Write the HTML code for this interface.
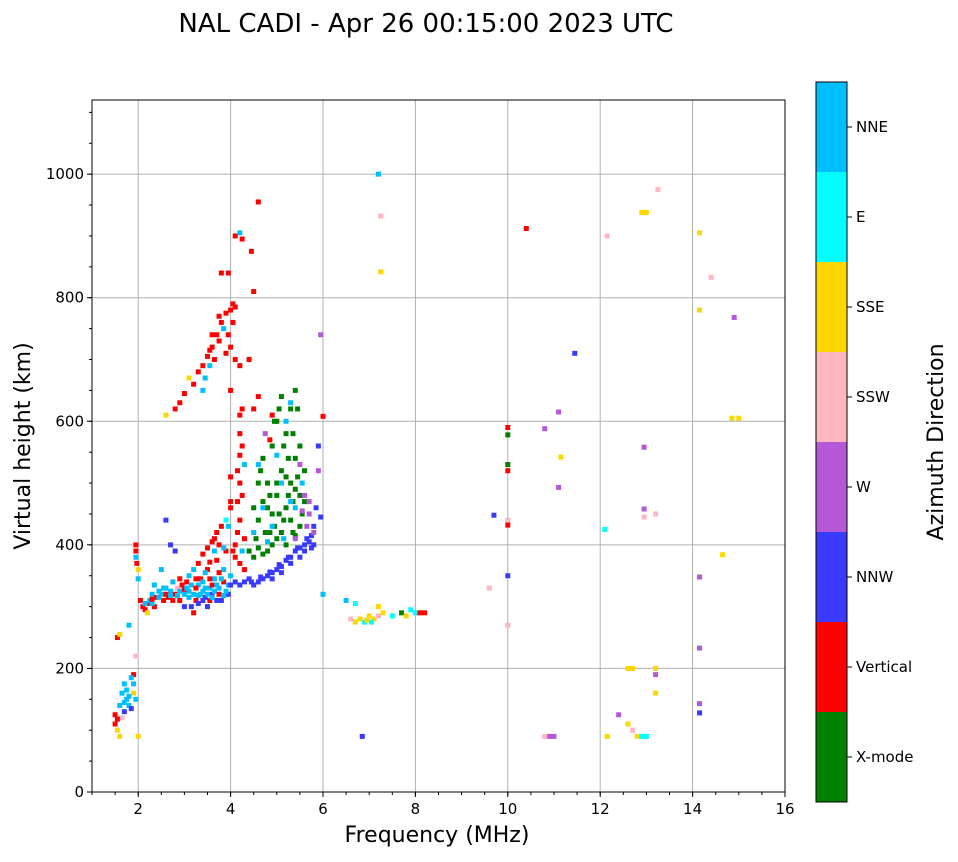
<!DOCTYPE html>
<html><head><meta charset="utf-8"><style>
body{margin:0;background:#fff;}
svg text{font-family:"DejaVu Sans","Liberation Sans",sans-serif;fill:#000;}
</style></head><body>
<svg id="chart" width="958" height="857" xmlns="http://www.w3.org/2000/svg">
<rect width="958" height="857" fill="#fff"/>
<text x="426" y="32" font-size="26" text-anchor="middle">NAL CADI - Apr 26 00:15:00 2023 UTC</text>
<g id="grid"></g>
<g id="marks"></g>
<rect x="92" y="100" width="693" height="692" fill="none" stroke="#000" stroke-width="1"/>
<g id="axes"></g>
<text x="437" y="842" font-size="22" text-anchor="middle">Frequency (MHz)</text>
<text transform="translate(30,446) rotate(-90)" font-size="22" text-anchor="middle">Virtual height (km)</text>
<g id="cbar"></g>
<text transform="translate(943,442) rotate(-90)" font-size="22" text-anchor="middle">Azimuth Direction</text>
</svg>
<script>
const modeNames=["X-mode","Vertical","NNW","W","SSW","SSE","E","NNE"];
const modeColors=["#008000","#ff0000","#3a3aff","#b558d8","#ffb6c1","#ffd700","#00ffff","#00bfff"];
const xTicks=[2,4,6,8,10,12,14,16];
const yTicks=[0,200,400,600,800,1000];
const points=[
[1.5,125,1],[1.5,110,1],[1.55,100,5],[1.6,90,5],[1.6,140,7],[1.65,160,7],[1.7,175,7],[1.75,150,7],[1.8,140,7],[1.85,135,2],[1.9,190,1],[1.85,185,7],[1.7,130,2],[1.65,120,4],[1.75,165,7],[1.55,250,1],[1.6,255,5],[1.8,270,7],[1.95,150,7],[1.95,220,4],[2.0,90,5],[1.9,160,5],[1.55,118,1],[1.7,145,7],[1.8,155,7],[1.9,175,7],
[1.95,400,1],[1.95,390,1],[1.95,380,7],[1.97,370,1],[2.0,360,5],[2.0,345,7],[2.05,310,1],[2.1,300,1],[2.15,295,1],[2.2,305,1],[2.2,290,5],[2.25,310,7],[2.3,320,7],[2.35,300,1],[2.4,315,1],[2.45,325,7],[2.5,320,7],[2.55,310,1],[2.6,330,7],[2.65,315,1],[2.7,325,7],[2.75,340,7],[2.8,320,1],[2.85,330,4],[2.9,310,1],[2.95,335,1],[3.0,320,7],[3.05,340,1],[3.1,350,7],[3.15,300,2],[3.2,320,7],[3.25,310,1],[3.3,335,7],[3.35,345,1],[3.4,325,7],[3.45,315,2],[3.5,360,1],[3.55,330,7],[3.6,320,2],[3.65,345,7],[3.7,375,1],[3.75,330,7],[3.8,310,2],[3.85,340,1],[3.9,390,1],[3.95,320,2],[4.0,350,7],[3.3,370,1],[3.4,385,1],[3.5,395,1],[3.6,405,1],[3.7,420,1],[3.8,430,1],[3.9,440,6],[2.6,440,2],[2.7,400,2],[2.8,390,2],[2.5,360,7],[2.35,335,7],[3.2,290,1],[3.0,300,2],[3.5,300,2],[3.7,310,2],[2.9,345,1],[3.2,360,7],[3.45,355,7],[3.65,390,7],[3.85,360,7],[2.3,305,7],[2.6,320,1],[2.9,325,7],[3.1,315,7],[3.35,320,7],[3.6,335,1],[3.8,345,7],[3.9,325,7],[3.55,310,1],[3.75,355,1],
[2.15,305,7],[2.3,312,1],[2.45,315,7],[2.55,330,7],[2.7,318,7],[2.85,318,7],[3.0,328,1],[3.1,325,7],[3.15,335,7],[3.25,330,1],[3.3,318,7],[3.4,340,7],[3.45,330,7],[3.5,320,7],[3.6,315,7],[3.65,325,7],[3.7,335,7],[3.75,320,1],[3.85,318,7],[3.95,335,7],[3.4,310,2],[3.55,345,1],[3.25,345,1],[3.05,330,7],[2.75,310,1],[3.3,305,2],[3.55,372,1],[3.75,400,1],[3.85,395,7],[3.65,410,1],
[4.0,335,2],[4.1,340,2],[4.2,335,2],[4.3,340,2],[4.4,345,2],[4.5,335,2],[4.6,340,2],[4.7,345,2],[4.8,350,2],[4.9,355,2],[5.0,360,2],[5.1,365,2],[5.2,375,2],[5.3,380,2],[5.4,390,2],[5.5,395,2],[5.6,400,2],[5.7,405,2],[5.75,415,2],[5.8,430,2],[5.85,460,2],[5.9,520,3],[5.9,560,2],[5.95,445,2],[4.0,460,1],[4.1,380,1],[4.2,370,1],[4.3,360,1],[4.1,400,1],[4.15,420,1],[4.2,440,1],[4.15,470,1],[4.2,500,1],[4.15,520,1],[4.2,545,1],[4.25,560,1],[4.2,580,1],[4.2,610,1],[4.25,620,1],[4.25,480,1],[4.3,530,7],[4.3,410,1],[4.0,470,1],[4.0,510,1],[3.95,430,7],[4.05,390,1],[4.25,390,7],
[4.45,340,2],[4.65,348,2],[4.85,356,2],[5.05,368,2],[5.25,380,2],[5.45,395,2],[5.65,410,2],[5.8,400,2],[5.5,380,2],[5.3,370,2],[5.1,355,2],[4.9,345,2],[5.6,390,2],[5.75,395,2],
[4.4,390,0],[4.5,380,0],[4.6,395,0],[4.7,385,0],[4.8,390,0],[4.9,400,0],[5.0,410,0],[5.1,420,0],[4.6,440,0],[4.7,470,0],[4.8,500,0],[4.9,450,0],[5.0,480,0],[5.1,520,0],[5.2,460,0],[5.3,500,0],[5.4,540,0],[5.5,560,0],[5.2,580,0],[5.3,620,0],[5.4,650,0],[4.7,540,0],[4.9,560,0],[5.0,600,0],[5.1,640,0],[5.6,470,0],[5.5,430,0],[5.3,440,0],[4.5,460,0],[4.6,500,0],[5.2,400,0],[5.4,415,0],[4.95,600,0],[5.45,510,0],[5.25,540,0],[5.05,450,0],[4.85,420,0],[5.35,470,0],[5.5,480,0],
[4.55,410,0],[4.75,420,0],[4.95,430,0],[5.15,440,0],[5.35,420,0],[5.55,450,0],[4.8,460,0],[5.0,500,0],[5.2,510,0],[5.4,490,0],[5.6,520,0],[5.15,560,0],[5.35,580,0],[5.05,620,0],[5.45,620,0],[4.65,520,0],[4.85,480,0],[5.25,480,0],
[4.5,420,7],[4.7,460,7],[5.2,600,7],[5.1,500,7],[4.9,430,7],[5.3,470,7],[4.6,530,7],[5.0,545,7],[5.4,460,7],[5.55,500,7],[5.3,630,7],[4.8,405,7],[5.15,410,7],
[5.5,530,3],[5.6,480,3],[5.7,450,3],[5.8,420,3],[5.95,740,3],[4.75,580,3],[5.4,410,3],[5.65,430,3],[5.7,470,3],[5.55,455,3],
[4.85,570,1],[4.6,640,1],[4.4,700,1],[4.5,620,1],[4.9,610,1],[4.0,650,1],[6.0,608,1],
[2.9,630,1],[3.0,645,1],[3.2,660,1],[3.3,680,1],[3.4,690,1],[3.5,705,1],[3.6,720,1],[3.7,740,1],[3.8,760,1],[3.9,775,1],[4.0,780,1],[4.05,790,1],[3.55,690,7],[3.45,670,7],[3.85,750,7],[3.75,730,1],[3.95,740,1],[4.0,720,1],[4.1,700,1],[4.2,690,1],[3.65,700,1],[3.8,840,1],[3.95,840,1],[4.1,900,1],[4.25,895,1],[4.45,875,1],[4.6,955,1],[4.5,810,1],[4.2,905,7],[4.05,760,1],[3.4,650,7],[3.1,670,5],[2.6,610,5],[2.8,620,1],[3.9,710,1],[3.6,740,1],[3.75,770,1],[4.1,785,1],[3.55,715,1],
[6.0,320,7],[6.5,310,7],[6.7,305,6],[6.6,280,4],[6.7,275,5],[6.8,280,5],[6.9,275,6],[7.0,285,5],[7.1,280,5],[7.2,285,4],[7.3,290,5],[7.5,285,6],[7.7,290,0],[7.8,285,5],[8.0,290,6],[8.1,290,1],[8.2,290,1],[7.9,295,6],[7.2,300,5],[6.85,90,2],[7.2,1000,7],[7.25,842,5],[7.25,932,4],[6.95,278,5],[7.05,275,6],
[10.0,590,1],[10.0,578,0],[10.0,530,0],[10.0,520,1],[10.0,440,4],[10.0,432,1],[10.0,350,2],[10.0,270,4],[9.7,448,2],[9.6,330,4],[10.4,912,1],[10.8,588,3],[11.1,615,3],[11.15,542,5],[11.1,493,3],[11.45,710,2],[10.9,90,3],[11.0,90,3],[10.8,90,4],
[12.15,900,4],[12.1,425,6],[12.15,90,5],[12.4,125,3],[12.6,200,5],[12.7,200,5],[12.6,110,5],[12.7,100,4],[12.8,90,5],[12.9,90,6],[13.0,90,6],[12.9,938,5],[13.0,938,5],[13.25,975,4],[12.95,558,3],[12.95,458,3],[12.95,445,4],[13.2,450,4],[13.2,200,5],[13.2,190,3],[13.2,160,5],[14.15,905,5],[14.15,780,5],[14.4,833,4],[14.9,768,3],[14.85,605,5],[15.0,605,5],[14.15,348,3],[14.15,233,3],[14.15,143,3],[14.15,128,2],[14.65,384,5]
];
const NS="http://www.w3.org/2000/svg";
const X0=92,X1=785,Y0=792,Y1=100,FMIN=1,FMAX=16,HMIN=0,HMAX=1120;
function xs(f){return X0+(f-FMIN)/(FMAX-FMIN)*(X1-X0);}
function ys(h){return Y0-(h-HMIN)/(HMAX-HMIN)*(Y0-Y1);}
function mk(t,a,p){const e=document.createElementNS(NS,t);for(const k in a)e.setAttribute(k,a[k]);p.appendChild(e);return e;}
const grid=document.getElementById('grid'),axes=document.getElementById('axes'),marks=document.getElementById('marks'),cbar=document.getElementById('cbar');
xTicks.forEach(t=>{const x=xs(t);
 if(t<FMAX){const g=mk('line',{x1:x,x2:x,y1:Y1,y2:Y0,stroke:'#b0b0b0','stroke-width':1},grid);
 
 }
 mk('line',{x1:x,x2:x,y1:Y0,y2:Y0+5,stroke:'#000'},axes);
 const l=mk('text',{x:x,y:Y0+22,'font-size':15,'text-anchor':'middle'},axes);l.textContent=t;
 
 });
for(let f=1;f<=16;f+=0.5){const x=xs(f);mk('line',{x1:x,x2:x,y1:Y0,y2:Y0+3,stroke:'#000'},axes);}
yTicks.forEach(t=>{const y=ys(t);
 const g=mk('line',{x1:X0,x2:X1,y1:y,y2:y,stroke:'#b0b0b0','stroke-width':1},grid);
 
 
 mk('line',{x1:X0-5,x2:X0,y1:y,y2:y,stroke:'#000'},axes);
 const l=mk('text',{x:X0-8,y:y+5,'font-size':15,'text-anchor':'end'},axes);l.textContent=t;
 
 });
for(let h=0;h<=1100;h+=50){const y=ys(h);mk('line',{x1:X0-3,x2:X0,y1:y,y2:y,stroke:'#000'},axes);}
points.forEach(p=>{const r=mk('rect',{x:xs(p[0])-2.5,y:ys(p[1])-2.5,width:5,height:5,fill:modeColors[p[2]]},marks);
 
 });
const CX=816,CW=31,CT=82,CB=802,seg=(CB-CT)/modeNames.length;
modeNames.forEach((n,i)=>{const y=CB-(i+1)*seg;
 const r=mk('rect',{x:CX,y:y,width:CW,height:seg,fill:modeColors[i]},cbar);
 
 
 mk('line',{x1:CX+CW,x2:CX+CW+5,y1:y+seg/2,y2:y+seg/2,stroke:'#000'},cbar);
 const l=mk('text',{x:CX+CW+9,y:y+seg/2+5,'font-size':15},cbar);l.textContent=n;
 
 });
mk('rect',{x:CX,y:CT,width:CW,height:CB-CT,fill:'none',stroke:'#000'},cbar);
</script>
</body></html>
